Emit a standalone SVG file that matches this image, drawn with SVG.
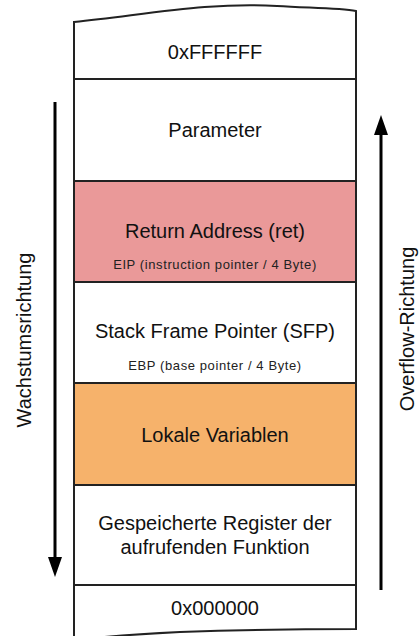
<svg xmlns="http://www.w3.org/2000/svg" width="420" height="636" viewBox="0 0 420 636">
  <style>
    .cell { stroke: #222; stroke-width: 2; }
    .t { font-family: "Liberation Sans", Arial, sans-serif; font-size: 20px; fill: #111; text-anchor: middle; }
    .s { font-family: "Liberation Sans", Arial, sans-serif; font-size: 13px; letter-spacing: 0.6px; fill: #222; text-anchor: middle; }
    .dir { stroke: #000; stroke-width: 3; fill: none; }
  </style>
  <defs>
    <marker id="head" markerWidth="20" markerHeight="14" refX="2" refY="7" orient="auto" markerUnits="userSpaceOnUse">
      <path d="M0,0 L20,7 L0,14 Z" fill="#000"/>
    </marker>
  </defs>

  <!-- stack cells, top (high address) to bottom (low address) -->
  <g id="top-cell">
    <path class="cell" fill="#fff" d="M74,22 C150,14 210,2 277,6 C310,8 340,8 356,11 L356,79 L74,79 Z"/>
    <text class="t" x="215" y="59">0xFFFFFF</text>
  </g>
  <g id="parameter">
    <rect class="cell" x="74" y="79" width="282" height="102" fill="#fff"/>
    <text class="t" x="215" y="137">Parameter</text>
  </g>
  <g id="ret">
    <rect class="cell" x="74" y="181" width="282" height="101" fill="#ea9999"/>
    <text class="t" x="215" y="238">Return Address (ret)</text>
    <text class="s" x="215" y="269">EIP (instruction pointer / 4 Byte)</text>
  </g>
  <g id="sfp">
    <rect class="cell" x="74" y="282" width="282" height="101" fill="#fff"/>
    <text class="t" x="215" y="338">Stack Frame Pointer (SFP)</text>
    <text class="s" x="215" y="370">EBP (base pointer / 4 Byte)</text>
  </g>
  <g id="locals">
    <rect class="cell" x="74" y="383" width="282" height="102" fill="#f6b26b"/>
    <text class="t" x="215" y="442">Lokale Variablen</text>
  </g>
  <g id="saved-registers">
    <rect class="cell" x="74" y="485" width="282" height="100" fill="#fff"/>
    <text class="t" x="215" y="530">Gespeicherte Register der</text>
    <text class="t" x="215" y="554">aufrufenden Funktion</text>
  </g>
  <g id="bottom-cell">
    <path class="cell" fill="#fff" d="M74,585 L356,585 L356,629 C300,629 240,630 180,632 C140,634 110,636 74,640 Z"/>
    <text class="t" x="215" y="615">0x000000</text>
  </g>

  <!-- direction arrows -->
  <g id="connectors">
    <line class="dir" x1="55" y1="102" x2="55" y2="559" marker-end="url(#head)"/>
    <line class="dir" x1="381" y1="590" x2="381" y2="133" marker-end="url(#head)"/>
  </g>
  <g id="labels">
    <text class="t" transform="translate(31,340) rotate(-90)">Wachstumsrichtung</text>
    <text class="t" transform="translate(414,329) rotate(-90)">Overflow-Richtung</text>
  </g>
</svg>
